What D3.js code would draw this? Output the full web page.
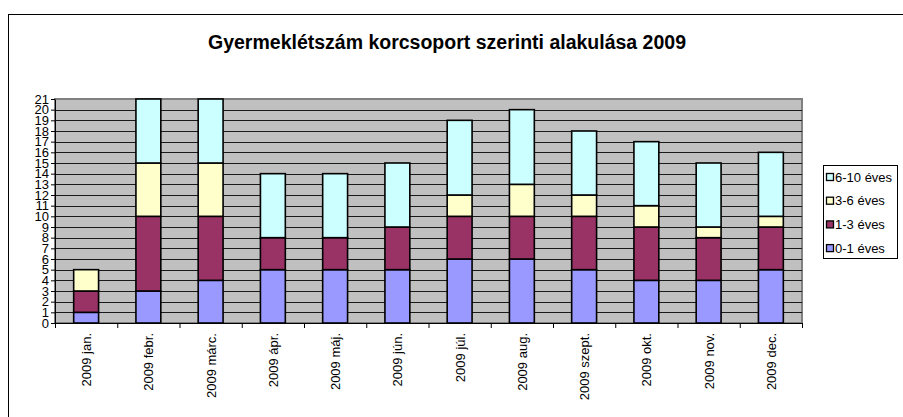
<!DOCTYPE html>
<html>
<head>
<meta charset="utf-8">
<script src="https://cdn.jsdelivr.net/npm/d3@7"></script>
<style>
body { margin: 0; background: #fff; }
svg { font-family: Arial, "Liberation Sans", sans-serif; }
</style>
</head>
<body>
<div id="chart"></div>
<script>
var months = ["2009 jan.", "2009 febr.", "2009 márc.", "2009 ápr.", "2009 máj.", "2009 jún.",
    "2009 júl.", "2009 aug.", "2009 szept.", "2009 okt.", "2009 nov.", "2009 dec."];
var seriesNames = ["0-1 éves", "1-3 éves", "3-6 éves", "6-10 éves"];
var age01 = [1, 3, 4, 5, 5, 5, 6, 6, 5, 4, 4, 5];
var age13 = [2, 7, 6, 3, 3, 4, 4, 4, 5, 5, 4, 4];
var age36 = [2, 5, 5, 0, 0, 0, 2, 3, 2, 2, 1, 1];
var age610 = [0, 6, 6, 6, 6, 6, 7, 7, 6, 6, 6, 6];
var yTicks = d3.range(0, 22);
var colors = ["#9999FF", "#993366", "#FFFFCC", "#CCFFFF"];

var width = 903, height = 417;
var svg = d3.select("#chart").append("svg")
    .attr("width", width)
    .attr("height", height);

// outer chart border
svg.append("rect")
    .attr("x", 8.5).attr("y", 14.5)
    .attr("width", 920).attr("height", 420)
    .attr("fill", "#fff")
    .attr("stroke", "#000")
    .attr("stroke-width", 1);

svg.append("text")
    .attr("x", 447).attr("y", 49)
    .attr("text-anchor", "middle")
    .style("font-size", "19.5px")
    .style("font-weight", "bold")
    .text("Gyermeklétszám korcsoport szerinti alakulása 2009");

var pLeft = 55, pRight = 802, pTop = 99, pBottom = 323;

var x = d3.scaleBand().domain(months).range([pLeft, pRight]).padding(0);
var xb = d3.scaleLinear().domain([0, months.length]).range([pLeft, pRight]);
var y = d3.scaleLinear().domain([0, 21]).range([pBottom, pTop]);

// plot background
svg.append("rect")
    .attr("x", pLeft).attr("y", pTop)
    .attr("width", pRight - pLeft).attr("height", pBottom - pTop)
    .attr("fill", "#C0C0C0")
    .attr("stroke", "#808080")
    .attr("stroke-width", 2);

// gridlines
svg.append("g").selectAll("line")
    .data(yTicks.slice(1, -1))
    .enter().append("line")
    .attr("x1", pLeft).attr("x2", pRight)
    .attr("y1", function(d) { return Math.round(y(d)) + 0.5; })
    .attr("y2", function(d) { return Math.round(y(d)) + 0.5; })
    .attr("stroke", "#1a1a1a")
    .attr("stroke-width", 1);

var table = months.map(function(m, i) {
    return { m: m, s0: age01[i], s1: age13[i], s2: age36[i], s3: age610[i] };
});
var stack = d3.stack().keys(["s0", "s1", "s2", "s3"])(table);

var bw = x.bandwidth();
svg.append("g").selectAll("g")
    .data(stack)
    .enter().append("g")
    .attr("fill", function(d, i) { return colors[i]; })
    .selectAll("rect")
    .data(function(d) { return d.filter(function(p) { return p[1] > p[0]; }); })
    .enter().append("rect")
    .attr("x", function(d) { return x(d.data.m) + bw * 0.3; })
    .attr("width", bw * 0.4)
    .attr("y", function(d) { return y(d[1]); })
    .attr("height", function(d) { return y(d[0]) - y(d[1]); })
    .attr("stroke", "#000")
    .attr("stroke-width", 1.6);

// y axis
var yAxis = svg.append("g")
    .attr("transform", "translate(" + pLeft + ",0)")
    .call(d3.axisLeft(y).tickValues(yTicks).tickSize(4).tickPadding(2).tickSizeOuter(0));
yAxis.select(".domain").attr("stroke", "#000");
yAxis.selectAll("text").style("font-size", "13px").attr("font-family", null).attr("fill", "#000");

// x axis ticks at category boundaries
var xAxis = svg.append("g")
    .attr("transform", "translate(0," + pBottom + ")")
    .call(d3.axisBottom(xb).tickValues(d3.range(0, months.length + 1)).tickSize(5).tickFormat("").tickSizeOuter(0));
xAxis.select(".domain").attr("stroke", "#000");

// x labels
svg.append("g").selectAll("text")
    .data(months)
    .enter().append("text")
    .attr("transform", function(d) {
        return "translate(" + (x(d) + bw / 2 + 5) + "," + (pBottom + 10) + ") rotate(-90)";
    })
    .attr("text-anchor", "end")
    .style("font-size", "13px")
    .text(function(d) { return d; });

// legend
var legend = svg.append("g");
legend.append("rect")
    .attr("x", 823.5).attr("y", 165.5)
    .attr("width", 74).attr("height", 93)
    .attr("fill", "#fff")
    .attr("stroke", "#000");
var order = [3, 2, 1, 0];
var item = legend.selectAll(".item")
    .data(order)
    .enter().append("g")
    .attr("transform", function(d, i) { return "translate(826," + (177 + i * 23.7) + ")"; });
item.append("rect")
    .attr("x", 0.5).attr("y", -3.5)
    .attr("width", 7).attr("height", 7)
    .attr("fill", function(d) { return colors[d]; })
    .attr("stroke", "#000")
    .attr("stroke-width", 1.3);
item.append("text")
    .attr("x", 9).attr("y", 4.5)
    .style("font-size", "13px")
    .text(function(d) { return seriesNames[d]; });
</script>
</body>
</html>
